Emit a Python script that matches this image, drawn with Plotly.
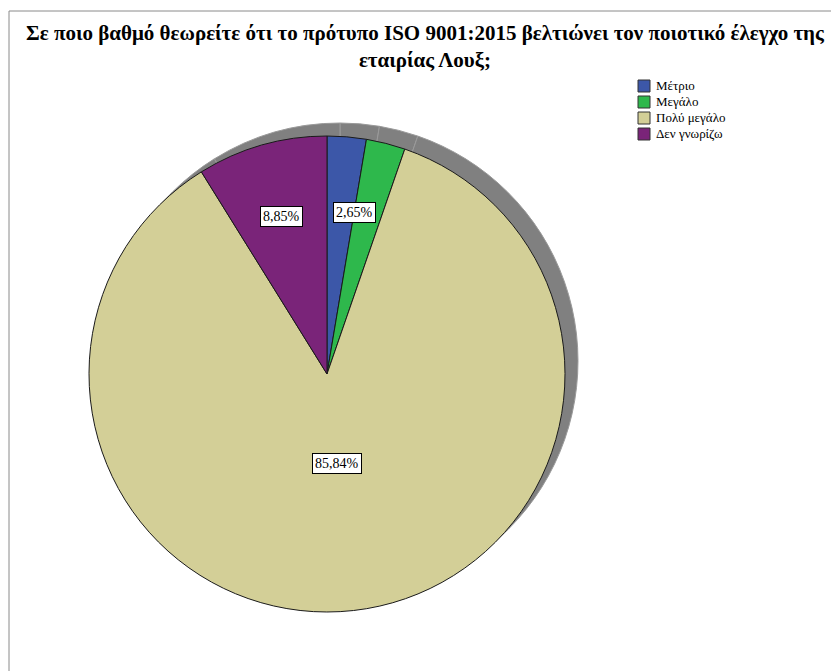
import math
import plotly.graph_objects as go

# Survey answers and their shares (%)
categories = ["Μέτριο", "Μεγάλο", "Πολύ μεγάλο", "Δεν γνωρίζω"]
shares = [2.65, 2.65, 85.84, 8.85]
colors = ["#3c57a8", "#2eb84c", "#d3cf97", "#7a2479"]

title_lines = [
    "Σε ποιο βαθμό θεωρείτε ότι το πρότυπο ISO 9001:2015 βελτιώνει τον ποιοτικό έλεγχο της",
    "εταιρίας Λουξ;",
]

W, H = 831, 671
SERIF = "Liberation Serif"

# pie placement in pixels
cx_px, cy_px, r_px = 327, 374, 238
shadow_dx, shadow_dy = 13, -13


def px_x(x):
    return x / W


def px_y(y):
    return 1 - y / H


def domain(cx, cy, r):
    return dict(x=[px_x(cx - r), px_x(cx + r)], y=[px_y(cy + r), px_y(cy - r)])


fig = go.Figure()

# drop shadow: a grey copy of the pie, shifted up and to the right
fig.add_trace(go.Pie(
    values=shares, labels=categories, sort=False, direction="clockwise",
    marker=dict(colors=["#808080"] * len(shares), line=dict(color="#9a9a9a", width=1)),
    textinfo="none", hoverinfo="skip", showlegend=False,
    domain=domain(cx_px + shadow_dx, cy_px + shadow_dy, r_px),
))

fig.add_trace(go.Pie(
    values=shares, labels=categories, sort=False, direction="clockwise",
    marker=dict(colors=colors, line=dict(color="#1a1a1a", width=1)),
    textinfo="none", hovertemplate="%{label}: %{value:.2f}%<extra></extra>",
    showlegend=False,
    domain=domain(cx_px, cy_px, r_px),
))

# boxed percentage labels; neighbouring slices with equal shares share one label on their boundary
total = sum(shares)
annotations = []
cum = 0.0
i = 0
while i < len(shares):
    j = i
    while j + 1 < len(shares) and shares[j + 1] == shares[i]:
        j += 1
    span = sum(shares[i:j + 1])
    ang = 2 * math.pi * (cum + span / 2) / total
    cum += span
    rf = 0.38 if shares[i] / total > 0.5 else 0.69
    lx = cx_px + rf * r_px * math.sin(ang)
    ly = cy_px - rf * r_px * math.cos(ang)
    annotations.append(dict(
        x=px_x(lx), y=px_y(ly), xref="paper", yref="paper", showarrow=False,
        xanchor="center", yanchor="middle",
        text=f"{shares[i]:.2f}".replace(".", ",") + "%",
        font=dict(family=SERIF, size=14, color="black"),
        bgcolor="white", bordercolor="black", borderwidth=1, borderpad=2,
    ))
    i = j + 1

# bold two-line title
annotations.append(dict(
    x=px_x(426), y=px_y(47), xref="paper", yref="paper", showarrow=False,
    xanchor="center", yanchor="middle", align="center",
    text="<br>".join("<b>" + line + "</b>" for line in title_lines),
    font=dict(family=SERIF, size=21, color="black"),
))

# compact legend: swatch + label per category
shapes = []
leg_x, leg_y0, leg_step, sw = 638, 86, 16, 12
for k, (name, col) in enumerate(zip(categories, colors)):
    yc = leg_y0 + k * leg_step
    shapes.append(dict(
        type="rect", xref="paper", yref="paper",
        x0=px_x(leg_x), x1=px_x(leg_x + sw), y0=px_y(yc + sw / 2), y1=px_y(yc - sw / 2),
        fillcolor=col, line=dict(color="#333333", width=1),
    ))
    annotations.append(dict(
        x=px_x(leg_x + sw + 4), y=px_y(yc), xref="paper", yref="paper", showarrow=False,
        xanchor="left", yanchor="middle", text=name,
        font=dict(family=SERIF, size=13, color="black"),
    ))

# frame lines
shapes += [
    dict(type="line", xref="paper", yref="paper", x0=px_x(9), x1=1, y0=px_y(11), y1=px_y(11),
         line=dict(color="#8a8a8a", width=1)),
    dict(type="line", xref="paper", yref="paper", x0=px_x(9), x1=px_x(9), y0=0, y1=px_y(11),
         line=dict(color="#8a8a8a", width=1)),
]

fig.update_layout(
    width=W, height=H,
    margin=dict(l=0, r=0, t=0, b=0),
    paper_bgcolor="white", plot_bgcolor="white",
    annotations=annotations,
    shapes=shapes,
    showlegend=False,
)

fig.write_html("out.html")
